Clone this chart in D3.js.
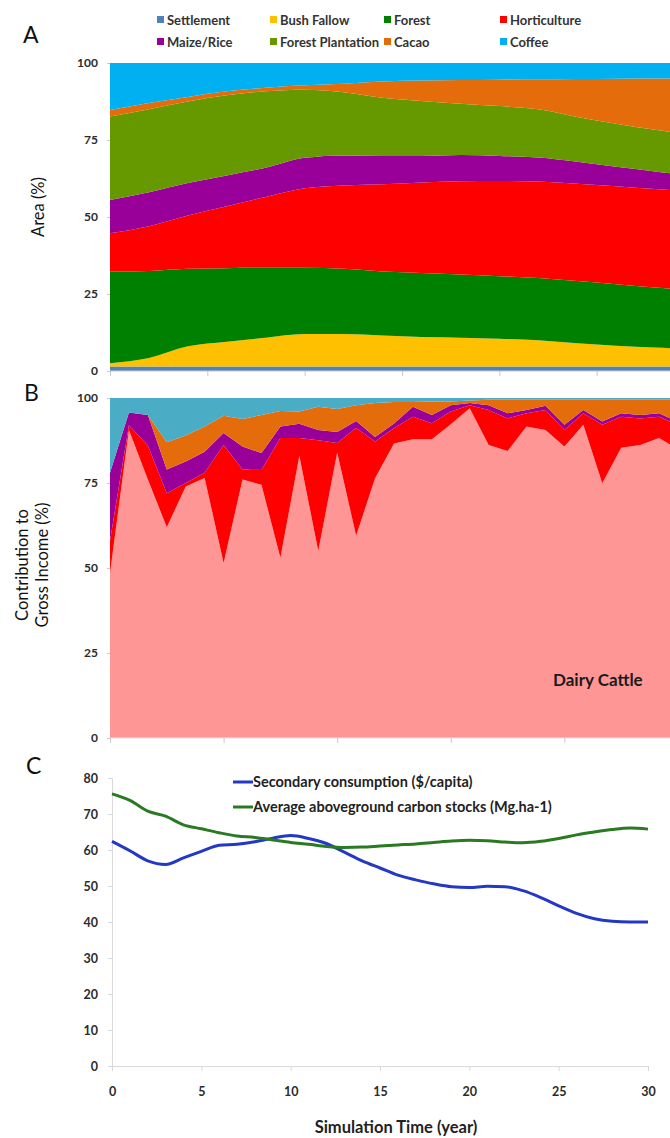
<!DOCTYPE html>
<html>
<head>
<meta charset="utf-8">
<script src="https://cdn.jsdelivr.net/npm/d3@7"></script>
<style>
  body { margin: 0; background: #fff; }
  text { font-family: Lato, "Open Sans", sans-serif; }
</style>
</head>
<body>
<script>
// Land use, income and consumption over 30 simulated years

/* Panel A data: share of area (%) for each land use */
const aYears = [0, 2, 4, 6, 8, 10, 12, 14, 16, 18, 20, 22, 24, 26, 28, 30];
const aKeys = ["Settlement", "Bush Fallow", "Forest", "Horticulture", "Maize/Rice", "Forest Plantation", "Cacao", "Coffee"];
const aColors = ["#4F81BD", "#FFC000", "#008000", "#FF0000", "#990099", "#669900", "#E46C0A", "#00B0F0"];
const settlementArea = [1.5, 1.5, 1.5, 1.5, 1.5, 1.5, 1.5, 1.5, 1.5, 1.5, 1.5, 1.5, 1.5, 1.5, 1.5, 1.5];
const bushFallowArea = [1.0, 2.7, 6.5, 8.0, 9.3, 10.5, 10.5, 10.0, 9.5, 9.3, 9.0, 8.5, 7.5, 6.7, 6.1, 5.5];
const forestArea = [29.7, 28.3, 25.2, 23.9, 22.7, 21.5, 21.2, 20.8, 20.8, 20.5, 20.3, 20.2, 20.2, 20.0, 19.5, 19.2];
const horticultureArea = [12.5, 14.5, 17.3, 20.1, 23.0, 25.8, 27.0, 28.3, 29.4, 30.3, 30.9, 31.3, 31.6, 31.8, 32.0, 32.1];
const maizeRiceArea = [10.8, 11.0, 10.5, 10.0, 9.5, 9.9, 9.8, 9.2, 8.6, 8.5, 8.1, 7.8, 7.1, 6.3, 5.7, 5.0];
const plantationArea = [27.1, 27.0, 26.5, 26.0, 24.8, 22.1, 20.5, 18.9, 17.9, 16.7, 16.2, 15.7, 14.6, 14.0, 13.5, 13.2];
const cacaoArea = [2.1, 2.0, 1.5, 1.3, 1.2, 1.5, 2.8, 5.3, 6.6, 7.7, 8.6, 9.7, 12.3, 14.6, 16.7, 18.5];
const coffeeArea = [15.3, 13.0, 11.0, 9.2, 8.0, 7.2, 6.7, 6.0, 5.7, 5.5, 5.4, 5.3, 5.2, 5.1, 5.0, 5.0];
const aTicks = [0, 25, 50, 75, 100];

/* Panel B data: contribution to gross income (%) */
const bYears = [0, 1, 2, 3, 4, 5, 6, 7, 8, 9, 10, 11, 12, 13, 14, 15, 16, 17, 18, 19, 20, 21, 22, 23, 24, 25, 26, 27, 28, 29, 30];
const bKeys = ["Dairy Cattle", "Horticulture", "Maize/Rice", "Cacao", "Coffee"];
const bColors = ["#FF9696", "#FF0000", "#990099", "#E46C0A", "#4BACC6"];
const dairyIncome = [48.5, 90.6, 76, 62, 74, 76.5, 51.5, 76, 74.5, 53, 83, 55, 84, 59.5, 76.4, 86.6, 87.9, 87.9, 92.3, 97, 86.2, 84.4, 91.6, 90.6, 85.7, 92.1, 74.9, 85.4, 86.2, 88.2, 85];
const horticultureIncome = [9.5, 1.4, 10, 10, 1, 1.5, 34.7, 3, 4.3, 35.2, 5.2, 32.6, 2.8, 31.7, 10.8, 4.5, 6.6, 4.7, 3.7, 0.9, 10.3, 9.6, 3.9, 5.9, 4.9, 3.4, 17.2, 9.1, 7.8, 6.3, 7];
const maizeRiceIncome = [20, 3.7, 9, 7, 6.3, 6.2, 3.5, 6.7, 5, 3.4, 4.2, 3, 3.2, 2, 1.3, 1.4, 2.9, 2.4, 1.9, 0.6, 1.4, 1.5, 1, 1.2, 1.5, 1, 1, 1, 1, 1, 1];
const cacaoIncome = [0, 0, 0, 8, 7.7, 7.4, 5.1, 8.1, 11.2, 4.6, 3.6, 6.8, 6.8, 4.7, 10, 6.3, 1.4, 4, 1.1, 0.8, 1.6, 4, 3, 1.8, 7.4, 3, 6.4, 4, 4.5, 4, 6.5];
const coffeeIncome = [22, 4.3, 5, 13, 11, 8.4, 5.2, 6.2, 5, 3.8, 4, 2.6, 3.2, 2.1, 1.5, 1.2, 1.2, 1, 1, 0.7, 0.5, 0.5, 0.5, 0.5, 0.5, 0.5, 0.5, 0.5, 0.5, 0.5, 0.5];
const bTicks = [0, 25, 50, 75, 100];

/* Panel C data */
const cYears = bYears;
const consumption = [62.4, 59.8, 57.0, 56.0, 57.8, 59.6, 61.3, 61.6, 62.3, 63.3, 64.0, 63.2, 61.8, 59.4, 57.0, 55.0, 53.0, 51.7, 50.6, 49.8, 49.6, 49.9, 49.8, 48.7, 46.8, 44.5, 42.4, 40.9, 40.2, 40.0, 40.0];
const carbonStocks = [75.6, 73.8, 70.8, 69.4, 67.0, 65.9, 64.8, 63.9, 63.5, 62.8, 62.1, 61.6, 61.0, 60.7, 60.8, 61.1, 61.4, 61.7, 62.1, 62.5, 62.7, 62.6, 62.2, 62.0, 62.4, 63.2, 64.2, 65.0, 65.7, 66.1, 65.8];
const cLabels = ["Secondary consumption ($/capita)", "Average aboveground carbon stocks (Mg.ha-1)"];
const cColors = ["#2338C4", "#2A7A22"];
const cYTicks = [0, 10, 20, 30, 40, 50, 60, 70, 80];
const cXTicks = [0, 5, 10, 15, 20, 25, 30];

// The svg
const svg = d3.select("body")
    .append("svg")
    .attr("width", 670)
    .attr("height", 1138)
    .style("background-color", "#fff");

svg.append("clipPath").attr("id", "plotClip")
    .append("rect").attr("x", 110).attr("y", 0).attr("width", 560).attr("height", 1138);

const axisGray = "#C9C9C9";

function styleTicks(g, size) {
    g.selectAll("text")
        .style("font-size", size + "px")
        .style("font-weight", "bold")
        .attr("fill", "#2b2b2b");
    g.selectAll("line").attr("stroke", axisGray);
}

/* Panel A */
const aRows = aYears.map((yr, i) => ({
    "Settlement": settlementArea[i],
    "Bush Fallow": bushFallowArea[i],
    "Forest": forestArea[i],
    "Horticulture": horticultureArea[i],
    "Maize/Rice": maizeRiceArea[i],
    "Forest Plantation": plantationArea[i],
    "Cacao": cacaoArea[i],
    "Coffee": coffeeArea[i],
    year: yr
}));

const xA = d3.scaleLinear().domain([0, 30]).range([110, 694]);
const yA = d3.scaleLinear().domain([0, 100]).range([371, 63]);

const aArea = d3.area()
    .x(d => xA(d.data.year))
    .y0(d => yA(d[0]))
    .y1(d => yA(d[1]))
    .curve(d3.curveMonotoneX);

svg.append("g").attr("clip-path", "url(#plotClip)")
    .selectAll("path")
    .data(d3.stack().keys(aKeys)(aRows))
    .join("path")
    .attr("d", aArea)
    .attr("fill", (d, i) => aColors[i]);

const aYAxis = svg.append("g")
    .attr("transform", "translate(110,0)")
    .call(d3.axisLeft(yA).tickValues(aTicks).tickSize(3).tickPadding(9));
aYAxis.select(".domain").remove();
styleTicks(aYAxis, 12);

const aXAxis = svg.append("g")
    .attr("transform", "translate(0,371)")
    .call(d3.axisBottom(xA).tickValues([0, 5, 10, 15, 20, 25]).tickSize(5).tickFormat(""));
aXAxis.select(".domain").attr("stroke", axisGray).attr("d", "M110,0H670");
styleTicks(aXAxis, 12);

// Legend for A
aKeys.forEach((k, i) => {
    const colX = [157, 270, 384, 500][i % 4];
    const rowY = i < 4 ? 20 : 42;
    svg.append("rect")
        .attr("x", colX).attr("y", rowY - 4)
        .attr("width", 7).attr("height", 7)
        .attr("fill", aColors[i]);
    svg.append("text")
        .attr("x", colX + 10).attr("y", rowY)
        .attr("dy", "0.35em")
        .style("font-size", "13px")
        .style("font-weight", "bold")
        .attr("fill", "#333")
        .text(k);
});

svg.append("text")
    .attr("transform", "translate(44,207) rotate(-90)")
    .attr("text-anchor", "middle")
    .style("font-size", "16.5px")
    .attr("fill", "#111")
    .text("Area (%)");

svg.append("text").attr("x", 23).attr("y", 43)
    .style("font-size", "23px").attr("fill", "#111").text("A");

/* Panel B */
const bRows = bYears.map((yr, i) => ({
    "Dairy Cattle": dairyIncome[i],
    "Horticulture": horticultureIncome[i],
    "Maize/Rice": maizeRiceIncome[i],
    "Cacao": cacaoIncome[i],
    "Coffee": coffeeIncome[i],
    year: yr
}));

const xB = d3.scaleLinear().domain([0, 30]).range([110, 678]);
const yB = d3.scaleLinear().domain([0, 100]).range([738, 398]);

const bArea = d3.area()
    .x(d => xB(d.data.year))
    .y0(d => yB(d[0]))
    .y1(d => yB(d[1]));

svg.append("g").attr("clip-path", "url(#plotClip)")
    .selectAll("path")
    .data(d3.stack().keys(bKeys)(bRows))
    .join("path")
    .attr("d", bArea)
    .attr("fill", (d, i) => bColors[i]);

const bYAxis = svg.append("g")
    .attr("transform", "translate(110,0)")
    .call(d3.axisLeft(yB).tickValues(bTicks).tickSize(3).tickPadding(9));
bYAxis.select(".domain").remove();
styleTicks(bYAxis, 12);

const bXAxis = svg.append("g")
    .attr("transform", "translate(0,738)")
    .call(d3.axisBottom(xB).tickValues([0, 6, 12, 18, 24]).tickSize(5).tickFormat(""));
bXAxis.select(".domain").attr("stroke", "#DCE6F0").attr("d", "M110,0H670");
styleTicks(bXAxis, 12);

svg.append("text")
    .attr("x", 553).attr("y", 686)
    .style("font-size", "17px")
    .style("font-weight", "bold")
    .attr("fill", "#1a1a1a")
    .text("Dairy Cattle");

svg.append("text")
    .attr("transform", "translate(28,565) rotate(-90)")
    .attr("text-anchor", "middle")
    .style("font-size", "16.5px")
    .attr("fill", "#111")
    .text("Contribution to");
svg.append("text")
    .attr("transform", "translate(48,565) rotate(-90)")
    .attr("text-anchor", "middle")
    .style("font-size", "16.5px")
    .attr("fill", "#111")
    .text("Gross Income  (%)");

svg.append("text").attr("x", 24).attr("y", 401)
    .style("font-size", "23px").attr("fill", "#111").text("B");

/* Panel C */
const xC = d3.scaleLinear().domain([0, 30]).range([112, 648]);
const yC = d3.scaleLinear().domain([0, 80]).range([1066, 778]);

const cYAxis = svg.append("g")
    .attr("transform", "translate(112,0)")
    .call(d3.axisLeft(yC).tickValues(cYTicks).tickSize(4).tickPadding(10));
cYAxis.select(".domain").attr("stroke", "#D9D9D9");
styleTicks(cYAxis, 12.5);
cYAxis.selectAll("line").attr("stroke", "#D9D9D9");

const cXAxis = svg.append("g")
    .attr("transform", "translate(0,1066)")
    .call(d3.axisBottom(xC).tickValues(cXTicks).tickSize(5).tickPadding(16));
cXAxis.select(".domain").attr("stroke", "#D9D9D9");
styleTicks(cXAxis, 12.5);
cXAxis.selectAll("line").attr("stroke", "#D9D9D9");

const cLine = d3.line()
    .x((d, i) => xC(cYears[i]))
    .y(d => yC(d))
    .curve(d3.curveMonotoneX);

[consumption, carbonStocks].forEach((series, s) => {
    svg.append("path")
        .attr("d", cLine(series))
        .attr("fill", "none")
        .attr("stroke", cColors[s])
        .attr("stroke-width", 3);

    const ly = [782, 807][s];
    svg.append("line")
        .attr("x1", 233).attr("x2", 253)
        .attr("y1", ly).attr("y2", ly)
        .attr("stroke", cColors[s])
        .attr("stroke-width", 3);
    svg.append("text")
        .attr("x", 253).attr("y", ly)
        .attr("dy", "0.35em")
        .style("font-size", "14.5px")
        .style("font-weight", "bold")
        .attr("fill", "#222")
        .text(cLabels[s]);
});

svg.append("text")
    .attr("x", 396).attr("y", 1133)
    .attr("text-anchor", "middle")
    .style("font-size", "16.5px")
    .style("font-weight", "bold")
    .attr("fill", "#222")
    .text("Simulation Time (year)");

svg.append("text").attr("x", 26).attr("y", 774)
    .style("font-size", "23px").attr("fill", "#111").text("C");
</script>
</body>
</html>
